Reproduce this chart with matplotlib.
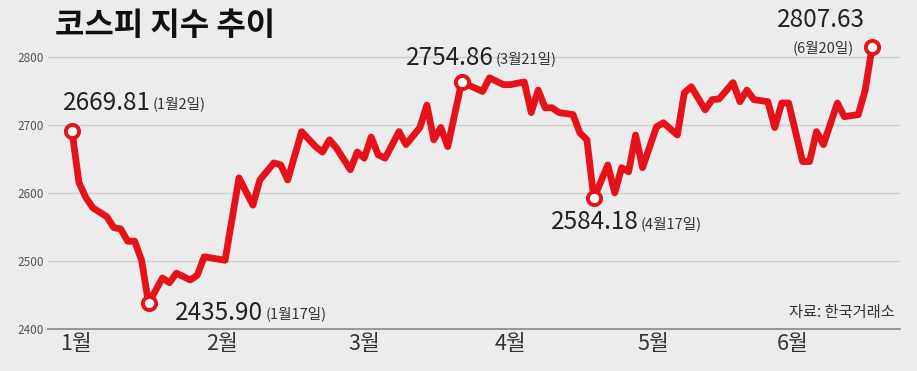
import matplotlib
matplotlib.use("Agg")
import matplotlib.pyplot as plt
import numpy as np

# trading-day index (Jan 2 = 0) and KOSPI level
day = [0, 1, 2, 3, 5, 6, 7, 8, 9, 10, 11, 13, 14, 15, 17, 18, 19, 22, 24, 26,
       27, 29, 30, 31, 33, 35, 36, 37, 38, 40, 41, 42, 43, 44, 45, 47, 48, 50,
       51, 52, 53, 54, 56, 59, 60, 62, 63, 65, 66, 67, 68, 69, 70, 72, 73, 74,
       75, 77, 78, 79, 80, 81, 82, 84, 85, 87, 88, 89, 91, 92, 93, 95, 96, 97,
       98, 100, 101, 102, 103, 105, 106, 107, 108, 110, 111, 113, 114, 115]
kospi = [2691, 2615, 2593, 2578, 2565, 2549, 2547, 2529, 2529, 2501, 2438,
         2475, 2468, 2482, 2472, 2479, 2506, 2501, 2622, 2582, 2619, 2644,
         2641, 2619, 2690, 2668, 2660, 2678, 2666, 2634, 2660, 2651, 2682,
         2656, 2651, 2690, 2671, 2696, 2729, 2678, 2696, 2668, 2763, 2749,
         2769, 2759, 2759, 2763, 2718, 2751, 2725, 2725, 2718, 2715, 2688,
         2678, 2592, 2641, 2600, 2637, 2631, 2685, 2637, 2697, 2703, 2685,
         2747, 2756, 2722, 2737, 2738, 2762, 2734, 2751, 2737, 2734, 2696,
         2732, 2732, 2646, 2646, 2690, 2671, 2732, 2712, 2715, 2751, 2815]

# highlighted points: day index, label number, date label
mark_day = [0, 11, 56, 75, 115]
mark_num = ["2669.81", "2435.90", "2754.86", "2584.18", "2807.63"]
mark_date = ["(1월2일)", "(1월17일)", "(3월21일)", "(4월17일)", "(6월20일)"]

month_pos = [0.5, 21.5, 42, 63, 83.5, 103.5]
month_lab = ["1월", "2월", "3월", "4월", "5월", "6월"]
yticks = [2400, 2500, 2600, 2700, 2800]

KRF = ["Noto Sans CJK KR", "DejaVu Sans"]
RED = "#e6121a"
BG = "#ececec"

fig = plt.figure(figsize=(9.17, 3.71), dpi=100, facecolor=BG)
ax = fig.add_axes([48 / 917, 1 - 329 / 371, (900 - 48) / 917, (329 - 20) / 371])
ax.set_facecolor(BG)

ax.plot(day, kospi, color=RED, lw=4.9, solid_joinstyle="round",
        solid_capstyle="round", zorder=3)
kv = dict(zip(day, kospi))
my = [kv[d] for d in mark_day]
ax.plot(mark_day, my, "o", ms=9.5, mfc="white", mec=RED, mew=2.8, zorder=4)

ax.set_xlim(-3.45, 119)
ax.set_ylim(2400, 2854)
ax.set_yticks(yticks)
ax.set_yticklabels([str(v) for v in yticks], family=KRF, fontsize=8.5, color="#555555")
ax.grid(axis="y", color="#cfcfcf", lw=1)
ax.set_axisbelow(True)
for s in ["top", "right", "left"]:
    ax.spines[s].set_visible(False)
ax.spines["bottom"].set_color("#888888")
ax.spines["bottom"].set_linewidth(1.2)
ax.tick_params(axis="y", length=0, pad=3)
ax.tick_params(axis="x", length=0, pad=3)
ax.set_xticks(month_pos)
ax.set_xticklabels(month_lab, family=KRF, fontsize=15.5, color="#333333")

# label offsets (pixels from the marker): number right edge / date left edge
offs = [(79, 28), (115, -10), (32, 24), (45, -24)]
for i in range(4):
    dx, dy = offs[i]
    ax.annotate(mark_num[i], (mark_day[i], my[i]), xytext=(dx, dy),
                textcoords="offset pixels", ha="right", va="center",
                family=KRF, fontsize=17.5, color="#222222")
    ax.annotate(mark_date[i], (mark_day[i], my[i]), xytext=(dx + 2, dy - 1),
                textcoords="offset pixels", ha="left", va="center",
                family=KRF, fontsize=10.5, color="#333333")
ax.annotate(mark_num[4], (mark_day[4], my[4]), xytext=(-51, 27),
            textcoords="offset pixels", ha="center", va="center",
            family=KRF, fontsize=17.5, color="#222222")
ax.annotate(mark_date[4], (mark_day[4], my[4]), xytext=(-49, -1),
            textcoords="offset pixels", ha="center", va="center",
            family=KRF, fontsize=10.5, color="#333333")

fig.text(55 / 917, 1 - 26 / 371, "코스피 지수 추이", family=KRF, fontsize=23,
         fontweight="bold", color="#111111", ha="left", va="center")
fig.text(895 / 917, 1 - 313 / 371, "자료: 한국거래소", family=KRF, fontsize=11,
         color="#333333", ha="right", va="center")

fig.savefig("out.png", dpi=100, facecolor=BG)
